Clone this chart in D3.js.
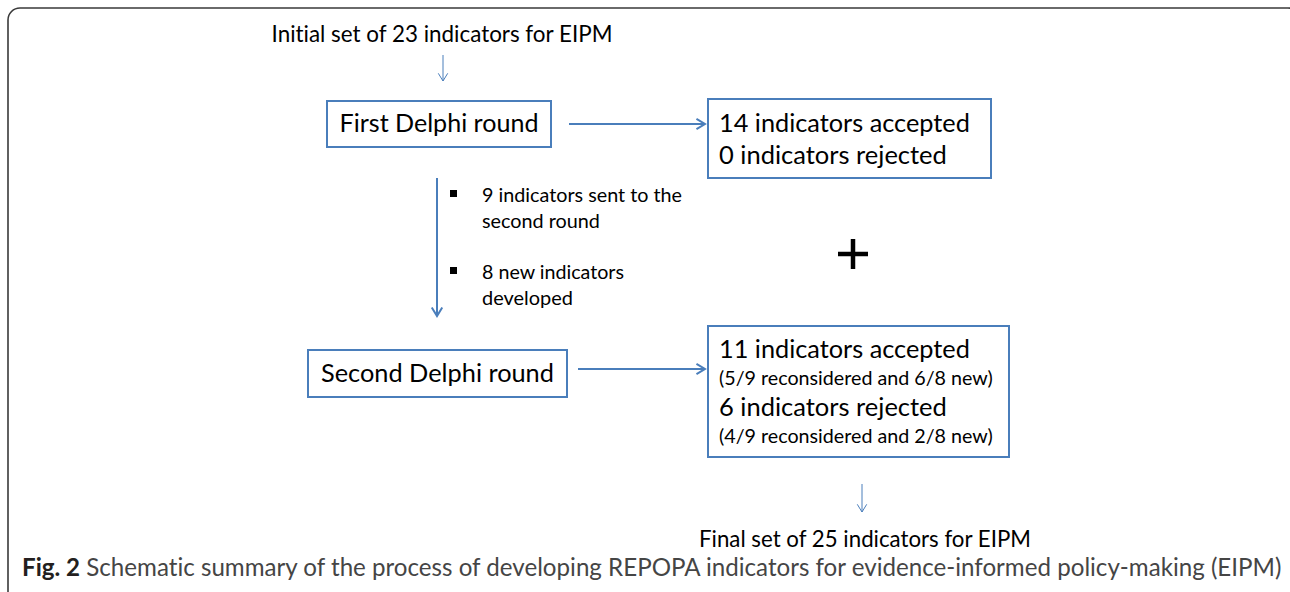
<!DOCTYPE html>
<html>
<head>
<meta charset="utf-8">
<script src="https://cdn.jsdelivr.net/npm/d3@7"></script>
<style>
  body { margin: 0; background: #fff; }
  text { font-family: "Lato", "Open Sans", sans-serif; font-variant-ligatures: none; }
</style>
</head>
<body>
<svg width="1290" height="592"></svg>
<script>
// text content of the diagram
var startLabel = "Initial set of 23 indicators for EIPM";
var endLabel = "Final set of 25 indicators for EIPM";
var roundLabels = ["First Delphi round", "Second Delphi round"];
var round1Results = ["14 indicators accepted", "0 indicators rejected"];
var round2Results = ["11 indicators accepted", "(5/9 reconsidered and 6/8 new)",
                     "6 indicators rejected", "(4/9 reconsidered and 2/8 new)"];
var bulletNotes = [["9 indicators sent to the", "second round"],
                   ["8 new indicators", "developed"]];
var captionBold = "Fig. 2";
var captionText = " Schematic summary of the process of developing REPOPA indicators for evidence-informed policy-making (EIPM)";

var svg = d3.select("svg"),
    width = +svg.attr("width"),
    height = +svg.attr("height");

var blue = "#4a7ebb";

// layout (pixel positions of the boxes)
var boxes = [
    {x: 327, y: 101, w: 224, h: 46},
    {x: 708, y: 99, w: 283, h: 79},
    {x: 308, y: 350, w: 259, h: 47},
    {x: 708, y: 326, w: 301, h: 131}
];

// outer frame
svg.append("rect")
    .attr("x", 8).attr("y", 8)
    .attr("width", 1292).attr("height", 620)
    .attr("rx", 12)
    .attr("fill", "none")
    .attr("stroke", "#3a3a3a")
    .attr("stroke-width", 1.6);

// shrink/grow font so a text matches the wanted width
function fit(sel, target) {
    sel.each(function () {
        var t = d3.select(this);
        var fs = parseFloat(t.attr("font-size"));
        var w = this.getComputedTextLength();
        t.attr("font-size", (fs * target / w).toFixed(2));
    });
}

function arrow(x1, y1, x2, y2, sw, head) {
    var g = svg.append("g")
        .attr("stroke", blue)
        .attr("fill", "none")
        .attr("stroke-width", sw);
    g.append("line").attr("x1", x1).attr("y1", y1).attr("x2", x2).attr("y2", y2);
    var a = Math.atan2(y2 - y1, x2 - x1);
    var p1 = [x2 - head * Math.cos(a - 0.55), y2 - head * Math.sin(a - 0.55)];
    var p2 = [x2 - head * Math.cos(a + 0.55), y2 - head * Math.sin(a + 0.55)];
    g.append("path").attr("d", d3.line()([p1, [x2, y2], p2]));
}

// boxes
svg.selectAll("rect.box")
    .data(boxes)
    .enter().append("rect")
    .attr("class", "box")
    .attr("x", function (d) { return d.x; })
    .attr("y", function (d) { return d.y; })
    .attr("width", function (d) { return d.w; })
    .attr("height", function (d) { return d.h; })
    .attr("fill", "none")
    .attr("stroke", blue)
    .attr("stroke-width", 2);

// start / end labels
svg.append("text")
    .attr("x", 442).attr("y", 42)
    .attr("text-anchor", "middle")
    .attr("font-size", 22)
    .attr("fill", "#000")
    .text(startLabel)
    .call(fit, 341);

svg.append("text")
    .attr("x", 865).attr("y", 547)
    .attr("text-anchor", "middle")
    .attr("font-size", 22)
    .attr("fill", "#000")
    .text(endLabel)
    .call(fit, 332);

// round boxes text
svg.selectAll("text.round")
    .data(roundLabels)
    .enter().append("text")
    .attr("class", "round")
    .attr("x", function (d, i) { return boxes[i * 2].x + boxes[i * 2].w / 2; })
    .attr("y", function (d, i) { return boxes[i * 2].y + boxes[i * 2].h / 2 + 8; })
    .attr("text-anchor", "middle")
    .attr("font-size", 24)
    .text(function (d) { return d; })
    .each(function (d, i) { d3.select(this).call(fit, i == 0 ? 199 : 233); });

// results of round 1
var r1Widths = [251, 228];
svg.selectAll("text.r1")
    .data(round1Results)
    .enter().append("text")
    .attr("class", "r1")
    .attr("x", 719)
    .attr("y", function (d, i) { return 132 + i * 32; })
    .attr("font-size", 24)
    .text(function (d) { return d; })
    .each(function (d, i) { d3.select(this).call(fit, r1Widths[i]); });

// results of round 2
var r2Widths = [251, 274, 228, 274];
var r2Y = [358, 385, 416, 443];
svg.selectAll("text.r2")
    .data(round2Results)
    .enter().append("text")
    .attr("class", "r2")
    .attr("x", 719)
    .attr("y", function (d, i) { return r2Y[i]; })
    .attr("font-size", function (d, i) { return i % 2 ? 17 : 24; })
    .text(function (d) { return d; })
    .each(function (d, i) { d3.select(this).call(fit, r2Widths[i]); });

// bullet notes between the rounds
var noteY = [202, 279];
var noteWidths = [[200, 118], [142, 91]];
bulletNotes.forEach(function (lines, k) {
    svg.append("rect")
        .attr("x", 450).attr("y", noteY[k] - 12)
        .attr("width", 7).attr("height", 7)
        .attr("fill", "#000");
    svg.selectAll("text.note" + k)
        .data(lines)
        .enter().append("text")
        .attr("class", "note" + k)
        .attr("x", 482)
        .attr("y", function (d, i) { return noteY[k] + i * 26; })
        .attr("font-size", 18)
        .text(function (d) { return d; })
        .each(function (d, i) { d3.select(this).call(fit, noteWidths[k][i]); });
});

// arrows
arrow(443, 55, 443, 81, 1, 9);
arrow(569, 124, 705, 124, 2, 10);
arrow(437, 178, 437, 316, 2, 10);
arrow(578, 369, 705, 369, 2, 10);
arrow(862, 484, 862, 512, 1, 9);

// plus sign
svg.append("g")
    .attr("stroke", "#000")
    .attr("stroke-width", 4.5)
    .call(function (g) {
        g.append("line").attr("x1", 838).attr("x2", 868).attr("y1", 254).attr("y2", 254);
        g.append("line").attr("x1", 853).attr("x2", 853).attr("y1", 239).attr("y2", 269);
    });

// caption
var cap = svg.append("text")
    .attr("x", 22).attr("y", 576)
    .attr("font-size", 19);
cap.append("tspan")
    .attr("font-weight", "bold")
    .attr("fill", "#231f20")
    .text(captionBold);
cap.append("tspan")
    .attr("fill", "#454545")
    .text(captionText);
cap.call(fit, 1260);
</script>
</body>
</html>
